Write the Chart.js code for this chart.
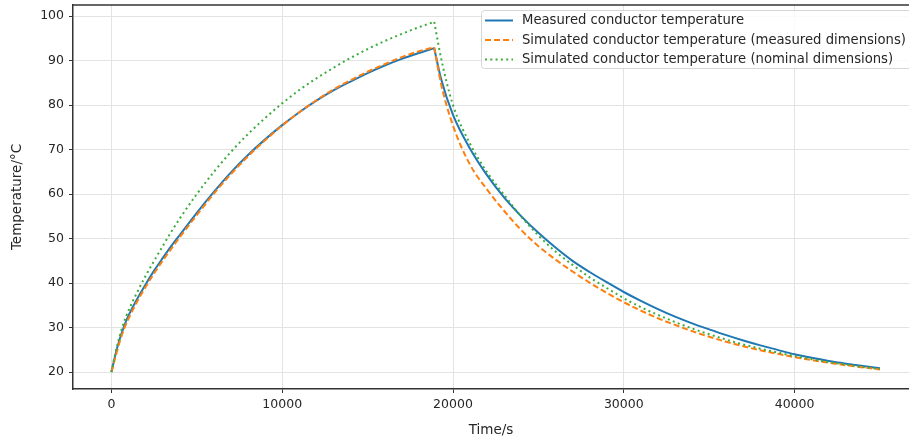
<!DOCTYPE html>
<html>
<head>
<meta charset="utf-8">
<script src="https://cdn.jsdelivr.net/npm/chart.js@4.4.1/dist/chart.umd.min.js"></script>
<style>
  html, body { margin: 0; padding: 0; background: #fff; }
  #wrap { width: 909px; height: 441px; position: relative; }
</style>
</head>
<body>
<div id="wrap"><canvas id="chart"></canvas></div>
<script>
// time axis (s), shared by all three series
const times = [0, 250, 500, 750, 1000, 1500, 2000, 2500, 3000, 3500, 4000,
  5000, 6000, 7000, 8000, 9000, 10000, 11000, 12000, 13000, 14000, 15000, 16000, 17000, 18000,
  18900, 19300, 20000, 21000, 22000, 23000, 24000, 25000, 26000, 27000, 28000, 29000, 30000,
  31000, 32000, 33000, 34000, 35000, 36000, 37000, 38000, 39000, 40000, 41000, 42000, 43000,
  44000, 45000];

const measured = [20, 24.2, 27.6, 30.4, 32.7, 36.4, 39.7, 42.8, 45.6, 48.3, 50.8,
  55.8, 60.5, 64.9, 68.8, 72.3, 75.5, 78.4, 81.0, 83.3, 85.3, 87.2, 88.9, 90.4, 91.7,
  92.8, 85.9, 77.8, 70.2, 64.2, 59.2, 55.0, 51.3, 48.0, 45.0, 42.5, 40.2, 38.0,
  36.0, 34.15, 32.45, 30.95, 29.6, 28.3, 27.1, 26.0, 25.0, 24.0, 23.2, 22.5, 21.9,
  21.35, 20.85];

const simMeasuredDims = [20, 23.6, 27.0, 29.8, 32.0, 35.8, 39.1, 42.2, 45.0, 47.7, 50.3,
  55.3, 60.1, 64.5, 68.5, 72.1, 75.4, 78.4, 81.1, 83.5, 85.6, 87.5, 89.2, 90.8, 92.1,
  93.0, 84.8, 75.4, 66.6, 61.0, 56.2, 51.9, 48.3, 45.3, 42.6, 40.1, 37.8, 35.7,
  33.8, 32.1, 30.6, 29.2, 27.95, 26.8, 25.8, 24.9, 24.1, 23.35, 22.7, 22.1, 21.55,
  21.05, 20.6];

const simNominalDims = [20, 24.6, 28.3, 31.4, 33.8, 37.9, 41.6, 45.0, 48.3, 51.5, 54.5,
  60.0, 65.0, 69.5, 73.5, 77.1, 80.4, 83.4, 86.0, 88.4, 90.6, 92.6, 94.4, 96.0, 97.5,
  98.7, 90.6, 80.0, 71.3, 64.9, 59.8, 54.9, 50.7, 47.1, 44.1, 41.3, 38.9, 36.6,
  34.6, 32.85, 31.25, 29.8, 28.5, 27.3, 26.2, 25.25, 24.4, 23.6, 22.9, 22.25, 21.7,
  21.15, 20.7];

const seriesLabels = [
  'Measured conductor temperature',
  'Simulated conductor temperature (measured dimensions)',
  'Simulated conductor temperature (nominal dimensions)'
];

const xTicks = [0, 10000, 20000, 30000, 40000];
const yTicks = [20, 30, 40, 50, 60, 70, 80, 90, 100];

// heating stops here; each curve is drawn as a heating and a cooling part
const switchOffTime = 18900;

const FONT = 'DejaVu Sans';
const TEXT = '#262626';
const FRAME = '#333';

const styles = [
  { color: '#1f77b4', dash: [], width: 2 },
  { color: '#ff7f0e', dash: [6, 3], width: 2 },
  { color: '#3cac3c', dash: [2, 3.3], width: 2 }
];

function points(values, from, to) {
  const out = [];
  times.forEach((t, i) => {
    if (t >= from && t <= to) out.push({ x: t, y: values[i] });
  });
  return out;
}

// top frame line + legend box in the upper right
const framePlugin = {
  id: 'frame',
  afterDraw(chart) {
    const { ctx, chartArea } = chart;
    ctx.save();
    ctx.strokeStyle = FRAME;
    ctx.lineWidth = 1.5;
    ctx.beginPath();
    ctx.moveTo(chartArea.left - 0.75, chartArea.top);
    ctx.lineTo(chartArea.right, chartArea.top);
    ctx.stroke();

    const bx = 481, by = 10, bw = 440, bh = 58;
    ctx.fillStyle = 'rgba(255,255,255,0.8)';
    ctx.strokeStyle = 'rgba(204,204,204,0.8)';
    ctx.lineWidth = 1;
    ctx.beginPath();
    ctx.roundRect(bx + 0.5, by + 0.5, bw, bh, 3);
    ctx.fill();
    ctx.stroke();

    ctx.font = '13.2px "' + FONT + '"';
    ctx.textBaseline = 'middle';
    ctx.fillStyle = TEXT;
    const rows = [20.5, 40, 59.5];
    seriesLabels.forEach((label, i) => {
      const st = styles[i];
      ctx.strokeStyle = st.color;
      ctx.lineWidth = st.width;
      ctx.setLineDash(st.dash);
      ctx.beginPath();
      ctx.moveTo(485, rows[i]);
      ctx.lineTo(513, rows[i]);
      ctx.stroke();
      ctx.setLineDash([]);
      ctx.fillText(label, 522, rows[i] + 0.5);
    });
    ctx.restore();
  }
};

const datasets = [];
[measured, simMeasuredDims, simNominalDims].forEach((vals, i) => {
  [[0, switchOffTime], [switchOffTime, Infinity]].forEach(([a, b]) => {
    datasets.push({
      label: seriesLabels[i],
      data: points(vals, a, b),
      borderColor: styles[i].color,
      borderWidth: styles[i].width,
      borderDash: styles[i].dash,
      pointRadius: 0,
      cubicInterpolationMode: 'monotone',
      fill: false,
      order: 3 - i
    });
  });
});

new Chart(document.getElementById('chart'), {
  type: 'line',
  data: { datasets },
  options: {
    responsive: true,
    maintainAspectRatio: false,
    animation: false,
    layout: { padding: { top: 5, right: 0, left: 0, bottom: 0 } },
    plugins: { legend: { display: false }, tooltip: { enabled: false } },
    scales: {
      x: {
        type: 'linear',
        min: -2250,
        max: 46700,
        afterBuildTicks: scale => { scale.ticks = xTicks.map(v => ({ value: v })); },
        afterFit: scale => { scale.height = 52; scale.paddingLeft = 0; scale.paddingRight = 0; },
        grid: { color: '#e3e3e3', lineWidth: 1, tickColor: FRAME, tickLength: 4 },
        border: { color: FRAME, width: 1.5 },
        ticks: { color: TEXT, font: { family: FONT, size: 12.5 }, padding: 4, maxRotation: 0, callback: v => String(v) },
        title: { display: true, text: 'Time/s', color: TEXT, font: { family: FONT, size: 13.5 }, padding: { top: 0, bottom: 2 } }
      },
      y: {
        type: 'linear',
        min: 16.2,
        max: 102.5,
        afterBuildTicks: scale => { scale.ticks = yTicks.map(v => ({ value: v })); },
        afterFit: scale => { scale.width = 73; scale.paddingTop = 0; scale.paddingBottom = 0; },
        grid: { color: '#e3e3e3', lineWidth: 1, tickColor: FRAME, tickLength: 4 },
        border: { color: FRAME, width: 1.5 },
        ticks: { color: TEXT, font: { family: FONT, size: 12.5 }, padding: 5, callback: v => String(v) },
        title: { display: true, text: 'Temperature/°C', color: TEXT, font: { family: FONT, size: 13.5 }, padding: { top: 9, bottom: 0 } }
      }
    }
  },
  plugins: [framePlugin]
});
</script>
</body>
</html>
